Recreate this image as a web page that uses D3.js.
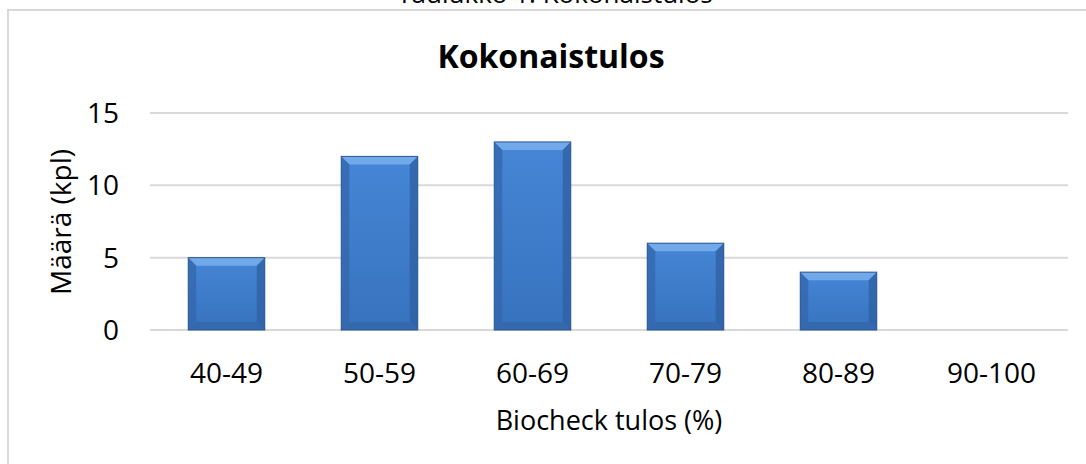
<!DOCTYPE html>
<html>
<head>
<meta charset="utf-8">
<script src="https://cdn.jsdelivr.net/npm/d3@7"></script>
<style>
  body { margin: 0; background: #fff; }
  svg { display: block; font-family: "Open Sans", sans-serif; }
</style>
</head>
<body>
<svg id="chart" width="1086" height="464"></svg>
<script>
const categories = ['40-49', '50-59', '60-69', '70-79', '80-89', '90-100'];
const counts = [5, 12, 13, 6, 4, 0];
const yTicks = [0, 5, 10, 15];

const svg = d3.select('#chart');

const xScale = d3.scaleBand()
    .domain(categories)
    .range([150, 1068])
    .paddingInner(0.5)
    .paddingOuter(0.25);

const yScale = d3.scaleLinear()
    .domain([0, 15])
    .range([330, 113]);

// gradient for the bevelled bars
const defs = svg.append('defs');
const face = defs.append('linearGradient').attr('id', 'face')
    .attr('x1', 0).attr('y1', 0).attr('x2', 0).attr('y2', 1);
face.append('stop').attr('offset', '0%').attr('stop-color', '#4686d6');
face.append('stop').attr('offset', '100%').attr('stop-color', '#3772bd');

// frame, caption cut at top like in the source
svg.append('rect')
    .attr('x', 8).attr('y', 10)
    .attr('width', 1100).attr('height', 470)
    .attr('fill', 'none')
    .attr('stroke', '#d9d9d9')
    .attr('stroke-width', 2);

svg.append('text')
    .attr('x', 555).attr('y', 3)
    .attr('text-anchor', 'middle')
    .style('font-size', '26px')
    .text('Taulukko 1. Kokonaistulos');

svg.append('text')
    .attr('x', 551).attr('y', 68)
    .attr('text-anchor', 'middle')
    .style('font-size', '32px')
    .style('font-weight', 'bold')
    .text('Kokonaistulos');

// gridlines
svg.append('g')
    .selectAll('line')
    .data(yTicks)
    .enter().append('line')
    .attr('x1', 150).attr('x2', 1068)
    .attr('y1', d => yScale(d)).attr('y2', d => yScale(d))
    .attr('stroke', '#d9d9d9')
    .attr('stroke-width', 2);

// y axis labels
svg.append('g')
    .selectAll('text')
    .data(yTicks)
    .enter().append('text')
    .attr('x', 119)
    .attr('y', d => yScale(d) + 10)
    .attr('text-anchor', 'end')
    .style('font-size', '28px')
    .text(d => d);

// bars
const bev = 8;
const bars = svg.append('g')
    .selectAll('g')
    .data(categories.map((c, i) => ({ cat: c, val: counts[i] })).filter(d => d.val > 0))
    .enter().append('g');

bars.append('rect')
    .attr('x', d => xScale(d.cat))
    .attr('y', d => yScale(d.val))
    .attr('width', xScale.bandwidth())
    .attr('height', d => yScale(0) - yScale(d.val))
    .attr('fill', 'url(#face)');

const sides = [
    { color: '#7cb2ee', pts: (x0, y0, x1, y1) => [[x0, y0], [x1, y0], [x1 - bev, y0 + bev], [x0 + bev, y0 + bev]] },
    { color: '#3468ae', pts: (x0, y0, x1, y1) => [[x0, y0], [x0 + bev, y0 + bev], [x0 + bev, y1 - bev], [x0, y1]] },
    { color: '#3062a4', pts: (x0, y0, x1, y1) => [[x1, y0], [x1 - bev, y0 + bev], [x1 - bev, y1 - bev], [x1, y1]] },
    { color: '#3566aa', pts: (x0, y0, x1, y1) => [[x0, y1], [x0 + bev, y1 - bev], [x1 - bev, y1 - bev], [x1, y1]] }
];

sides.forEach(s => {
    bars.append('polygon')
        .attr('points', d => {
            const x0 = xScale(d.cat), x1 = x0 + xScale.bandwidth();
            const y0 = yScale(d.val), y1 = yScale(0);
            return s.pts(x0, y0, x1, y1).map(p => p.join(',')).join(' ');
        })
        .attr('fill', s.color)
        .attr('opacity', 0.8);
});

bars.append('rect')
    .attr('x', d => xScale(d.cat))
    .attr('y', d => yScale(d.val))
    .attr('width', xScale.bandwidth())
    .attr('height', d => yScale(0) - yScale(d.val))
    .attr('fill', 'none')
    .attr('stroke', '#2c5894')
    .attr('stroke-width', 1);

// x labels
svg.append('g')
    .selectAll('text')
    .data(categories)
    .enter().append('text')
    .attr('x', d => xScale(d) + xScale.bandwidth() / 2)
    .attr('y', 383)
    .attr('text-anchor', 'middle')
    .style('font-size', '28px')
    .text(d => d);

// axis titles
svg.append('text')
    .attr('x', 609).attr('y', 430)
    .attr('text-anchor', 'middle')
    .style('font-size', '27px')
    .text('Biocheck tulos (%)');

svg.append('text')
    .attr('transform', 'translate(71,222) rotate(-90)')
    .attr('text-anchor', 'middle')
    .style('font-size', '28px')
    .text('Määrä (kpl)');
</script>
</body>
</html>
